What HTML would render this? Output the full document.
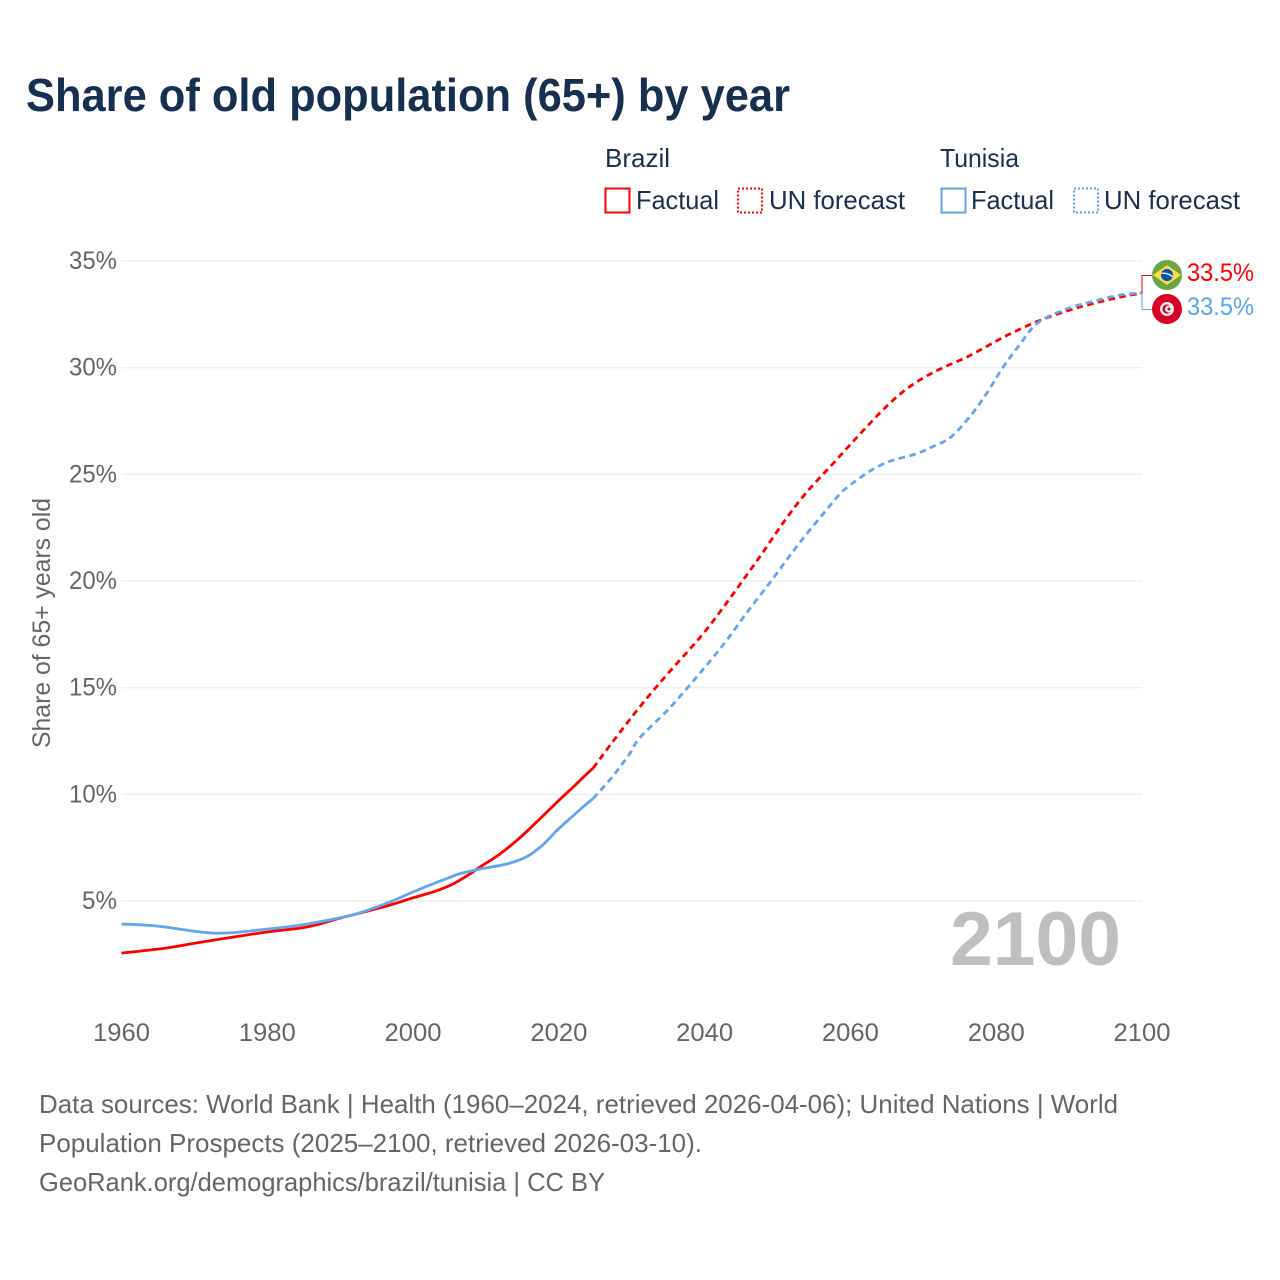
<!DOCTYPE html>
<html lang="en">
<head>
<meta charset="utf-8">
<title>Share of old population (65+) by year</title>
<style>
html,body{margin:0;padding:0;background:#fff;width:1280px;height:1280px;overflow:hidden}
svg{display:block}
text{font-family:"Liberation Sans",sans-serif}
</style>
</head>
<body>
<svg id="chart" xmlns="http://www.w3.org/2000/svg" width="1280" height="1280" viewBox="0 0 1280 1280">
  <rect x="0" y="0" width="1280" height="1280" fill="#ffffff"/>
  <text x="26" y="111" font-size="46" font-weight="700" fill="#18304f" textLength="764" lengthAdjust="spacingAndGlyphs">Share of old population (65+) by year</text>

  <g font-size="26" fill="#1b3050">
    <text x="605" y="167" textLength="65" lengthAdjust="spacingAndGlyphs">Brazil</text>
    <text x="940" y="167" textLength="79" lengthAdjust="spacingAndGlyphs">Tunisia</text>
    <g>
      <rect x="605.5" y="188.5" width="24" height="24" fill="none" stroke="#ff0000" stroke-width="2"/>
      <text x="636" y="209" textLength="83" lengthAdjust="spacingAndGlyphs">Factual</text>
    </g>
    <g>
      <rect x="738" y="188.5" width="24" height="24" fill="none" stroke="#ff0000" stroke-width="2" stroke-dasharray="2 2"/>
      <text x="769" y="209" textLength="136" lengthAdjust="spacingAndGlyphs">UN forecast</text>
    </g>
    <g>
      <rect x="941.5" y="188.5" width="24" height="24" fill="none" stroke="#5ea5ee" stroke-width="2"/>
      <text x="971" y="209" textLength="83" lengthAdjust="spacingAndGlyphs">Factual</text>
    </g>
    <g>
      <rect x="1074" y="188.5" width="24" height="24" fill="none" stroke="#5ea5ee" stroke-width="2" stroke-dasharray="2 2"/>
      <text x="1104" y="209" textLength="136" lengthAdjust="spacingAndGlyphs">UN forecast</text>
    </g>
  </g>

  <text transform="translate(50,748) rotate(-90)" x="0" y="0" font-size="25" fill="#666666" textLength="250" lengthAdjust="spacingAndGlyphs">Share of 65+ years old</text>
  <g id="grid"></g>
  <g id="yticks"></g>
  <g id="xticks"></g>

  <text x="950" y="965" font-size="76" font-weight="700" fill="#bfbfbf" textLength="171" lengthAdjust="spacingAndGlyphs">2100</text>

  <g id="series"></g>

  <g>
    <polyline id="connBrazil" fill="none" stroke="#ff0000" stroke-width="1"/>
    <g>
      <circle cx="1167" cy="275" r="15" fill="#6da544"/>
      <polygon points="1167,265 1181,275 1167,285 1153,275" fill="#ffda44"/>
      <circle cx="1167" cy="275" r="6" fill="#0052b4"/>
      <path d="M1161.3 273.4 Q1167 272.4 1172.7 276.6" fill="none" stroke="#f0f0f0" stroke-width="1.4"/>
    </g>
    <text x="1187" y="281" font-size="25" fill="#ff0000" textLength="67" lengthAdjust="spacingAndGlyphs">33.5%</text>
  </g>
  <g>
    <polyline id="connTunisia" fill="none" stroke="#5ea5ee" stroke-width="1"/>
    <g>
      <circle cx="1167" cy="309" r="15" fill="#d80027"/>
      <circle cx="1167" cy="309" r="7" fill="#f0f0f0"/>
      <circle cx="1167" cy="309" r="4.6" fill="#d80027"/>
      <circle cx="1168.6" cy="309" r="3.6" fill="#f0f0f0"/>
      <circle cx="1169" cy="309" r="1.5" fill="#d80027"/>
    </g>
    <text x="1187" y="315" font-size="25" fill="#5ea5ee" textLength="67" lengthAdjust="spacingAndGlyphs">33.5%</text>
  </g>

  <g font-size="26" fill="#666666">
    <text x="39" y="1113" textLength="1079" lengthAdjust="spacingAndGlyphs">Data sources: World Bank | Health (1960–2024, retrieved 2026-04-06); United Nations | World</text>
    <text x="39" y="1152" textLength="663" lengthAdjust="spacingAndGlyphs">Population Prospects (2025–2100, retrieved 2026-03-10).</text>
    <text x="39" y="1191" textLength="566" lengthAdjust="spacingAndGlyphs">GeoRank.org/demographics/brazil/tunisia | CC BY</text>
  </g>
</svg>
<script>
var yTickValues = [5, 10, 15, 20, 25, 30, 35];
var xTickYears = [1960, 1980, 2000, 2020, 2040, 2060, 2080, 2100];

var brazilFactualYears = [1960, 1966.2, 1970, 1974.4, 1980, 1985.4, 1990, 1995.9, 2000, 2002.7, 2005, 2007.3, 2009.2, 2011.9, 2014.6, 2017.4, 2020.1, 2021.9, 2023.8, 2024.7];
var brazilFactualValues = [2.56, 2.8, 3.02, 3.26, 3.55, 3.78, 4.2, 4.72, 5.15, 5.42, 5.72, 6.16, 6.6, 7.2, 7.95, 8.85, 9.75, 10.32, 10.95, 11.23];

var tunisiaFactualYears = [1960, 1964.8, 1970.8, 1974.4, 1979.9, 1985.4, 1991.7, 1996.4, 2000.5, 2004.6, 2006.4, 2009.2, 2012.9, 2015.6, 2017.8, 2019.7, 2021.9, 2023.8, 2024.7];
var tunisiaFactualValues = [3.92, 3.83, 3.55, 3.5, 3.68, 3.92, 4.35, 4.9, 5.5, 6.05, 6.28, 6.5, 6.74, 7.08, 7.63, 8.3, 8.98, 9.55, 9.8];

var brazilForecastYears = [2024.7, 2027.4, 2031.1, 2034.8, 2039.6, 2042.5, 2045.5, 2047.8, 2050.3, 2053, 2055.3, 2057.6, 2060.8, 2064.4, 2067.2, 2069.9, 2072.7, 2076, 2078.7, 2081.4, 2085.5, 2089.6, 2093.2, 2096.9, 2100];
var brazilForecastValues = [11.23, 12.47, 14.1, 15.6, 17.45, 18.74, 20.15, 21.25, 22.5, 23.75, 24.66, 25.5, 26.7, 28.0, 28.87, 29.5, 30.0, 30.5, 31.0, 31.5, 32.15, 32.65, 33.0, 33.3, 33.5];

var tunisiaForecastYears = [2024.7, 2027.4, 2029.7, 2031.1, 2035.2, 2038.9, 2041.1, 2043.2, 2045.9, 2048.9, 2051.6, 2053.7, 2056.7, 2058.9, 2061.3, 2062.9, 2065.3, 2069, 2071.3, 2073.8, 2076.6, 2078.7, 2080.9, 2083.2, 2085.7, 2089.6, 2093.2, 2096.9, 2100];
var tunisiaForecastValues = [9.8, 10.85, 11.9, 12.65, 14.05, 15.5, 16.4, 17.3, 18.57, 19.9, 21.15, 22.08, 23.33, 24.2, 24.83, 25.2, 25.6, 25.96, 26.3, 26.75, 27.8, 28.8, 30.0, 31.07, 32.1, 32.75, 33.1, 33.4, 33.5];

var SVGNS = 'http://www.w3.org/2000/svg';
function xScale(year) { return 121.5 + (year - 1960) * (1142 - 121.5) / 140; }
function yScale(value) { return 1007.7 - value * (1007.7 - 261) / 35; }

function smoothPath(years, values) {
  var pts = years.map(function (yr, i) { return [xScale(yr), yScale(values[i])]; });
  var d = 'M' + pts[0][0].toFixed(2) + ' ' + pts[0][1].toFixed(2);
  for (var i = 0; i < pts.length - 1; i++) {
    var p0 = pts[Math.max(i - 1, 0)], p1 = pts[i], p2 = pts[i + 1], p3 = pts[Math.min(i + 2, pts.length - 1)];
    var c1x = p1[0] + (p2[0] - p0[0]) / 6, c1y = p1[1] + (p2[1] - p0[1]) / 6;
    var c2x = p2[0] - (p3[0] - p1[0]) / 6, c2y = p2[1] - (p3[1] - p1[1]) / 6;
    d += 'C' + c1x.toFixed(2) + ' ' + c1y.toFixed(2) + ' ' + c2x.toFixed(2) + ' ' + c2y.toFixed(2) + ' ' + p2[0].toFixed(2) + ' ' + p2[1].toFixed(2);
  }
  return d;
}

var gridGroup = document.getElementById('grid');
var yTickGroup = document.getElementById('yticks');
yTickValues.forEach(function (v) {
  var line = document.createElementNS(SVGNS, 'line');
  
  
  line.setAttribute('x1', 121.5);
  line.setAttribute('x2', 1142);
  line.setAttribute('y1', yScale(v));
  line.setAttribute('y2', yScale(v));
  line.setAttribute('stroke', '#eeeeee');
  line.setAttribute('stroke-width', '1.5');
  gridGroup.appendChild(line);
  var label = document.createElementNS(SVGNS, 'text');
  
  
  label.setAttribute('x', 117);
  label.setAttribute('y', yScale(v) + 8);
  label.setAttribute('text-anchor', 'end');
  label.setAttribute('font-size', '25');
  label.setAttribute('fill', '#666666');
  label.setAttribute('textLength', v < 10 ? 35 : 48);
  label.setAttribute('lengthAdjust', 'spacingAndGlyphs');
  label.textContent = v + '%';
  yTickGroup.appendChild(label);
});

var xTickGroup = document.getElementById('xticks');
xTickYears.forEach(function (yr) {
  var label = document.createElementNS(SVGNS, 'text');
  
  
  label.setAttribute('x', xScale(yr));
  label.setAttribute('y', 1041);
  label.setAttribute('text-anchor', 'middle');
  label.setAttribute('font-size', '25');
  label.setAttribute('fill', '#666666');
  label.setAttribute('textLength', 57);
  label.setAttribute('lengthAdjust', 'spacingAndGlyphs');
  label.textContent = yr;
  xTickGroup.appendChild(label);
});

function addLine(name, years, values, color, dash) {
  var path = document.createElementNS(SVGNS, 'path');
  
  
  path.setAttribute('d', smoothPath(years, values));
  path.setAttribute('fill', 'none');
  path.setAttribute('stroke', color);
  path.setAttribute('stroke-width', '2.8');
  if (dash) { path.setAttribute('stroke-dasharray', dash); }
  document.getElementById('series').appendChild(path);
}
addLine('line-brazil-forecast', brazilForecastYears, brazilForecastValues, '#ff0000', '6.5 4.5');
addLine('line-tunisia-forecast', tunisiaForecastYears, tunisiaForecastValues, '#62a6ee', '6.5 4.5');
addLine('line-brazil-factual', brazilFactualYears, brazilFactualValues, '#ff0000', null);
addLine('line-tunisia-factual', tunisiaFactualYears, tunisiaFactualValues, '#62a6ee', null);

var bEnd = yScale(brazilForecastValues[brazilForecastValues.length - 1]);
var tEnd = yScale(tunisiaForecastValues[tunisiaForecastValues.length - 1]);
var xEnd = xScale(2100);
document.getElementById('connBrazil').setAttribute('points', xEnd + ',' + bEnd + ' ' + xEnd + ',275.5 1152,275.5');
document.getElementById('connTunisia').setAttribute('points', xEnd + ',' + tEnd + ' ' + xEnd + ',309.5 1152,309.5');
</script>
</body>
</html>
